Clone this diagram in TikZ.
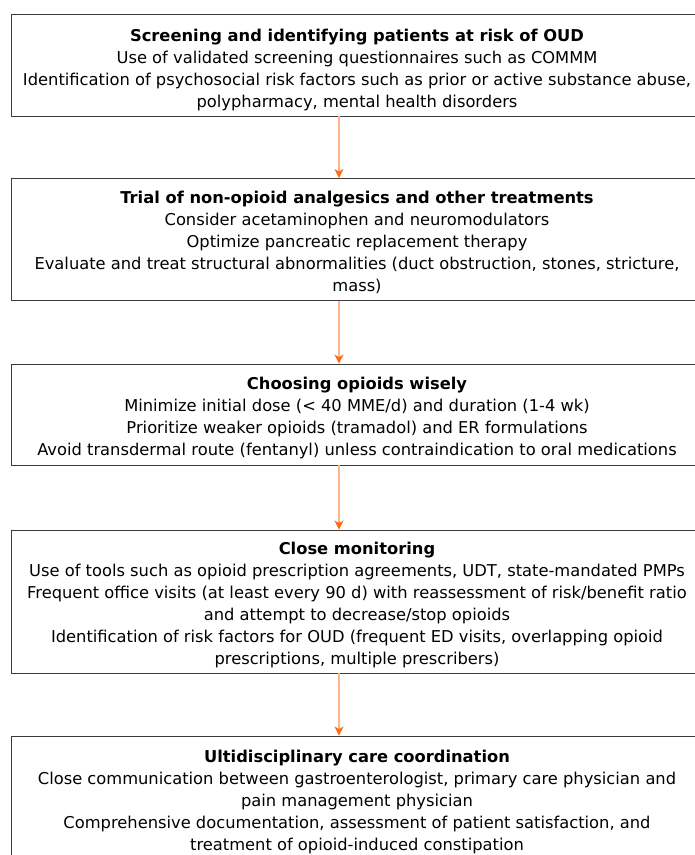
\documentclass[tikz,border=0pt]{standalone}
\usepackage{fontspec}
\setmainfont{DejaVu Sans}
\usetikzlibrary{arrows.meta}
\definecolor{boxline}{HTML}{3C3C3C}
\definecolor{arrline}{HTML}{FFB58A}
\definecolor{arrhead}{HTML}{FF6A13}
\newcommand{\tzlift}[1]{\rule{0pt}{#1}}
\begin{document}
\begin{tikzpicture}[x=1pt,y=-1pt,
  stagebox/.style={draw=boxline,line width=0.9pt,rectangle,minimum width=692pt,
    inner sep=0pt,align=center,font=\fontsize{16.3}{22}\selectfont},
  flowarrow/.style={draw=arrline,line width=1.6pt,
    -{Stealth[length=9pt,width=9pt,inset=2.5pt,color=arrhead]}}]
\useasboundingbox (0,0) rectangle (695,855);
\node[stagebox,minimum height=101.5pt] (b1) at (357,65.25) {\tzlift{21pt}\textbf{Screening and identifying patients at risk of OUD}\\
Use of validated screening questionnaires such as COMMM\\
Identification of psychosocial risk factors such as prior or active substance abuse,\\
polypharmacy, mental health disorders};
\node[stagebox,minimum height=122pt] (b2) at (357,239.5) {\tzlift{18.5pt}\textbf{Trial of non-opioid analgesics and other treatments}\\
Consider acetaminophen and neuromodulators\\
Optimize pancreatic replacement therapy\\
Evaluate and treat structural abnormalities (duct obstruction, stones, stricture,\\
mass)};
\node[stagebox,minimum height=101pt] (b3) at (357,414.5) {\tzlift{18.5pt}\textbf{Choosing opioids wisely}\\
Minimize initial dose (< 40 MME/d) and duration (1-4 wk)\\
Prioritize weaker opioids (tramadol) and ER formulations\\
Avoid transdermal route (fentanyl) unless contraindication to oral medications};
\node[stagebox,minimum height=143pt] (b4) at (357,601.5) {\tzlift{18.5pt}\textbf{Close monitoring}\\
Use of tools such as opioid prescription agreements, UDT, state-mandated PMPs\\
Frequent office visits (at least every 90 d) with reassessment of risk/benefit ratio\\
and attempt to decrease/stop opioids\\
Identification of risk factors for OUD (frequent ED visits, overlapping opioid\\
prescriptions, multiple prescribers)};
\node[stagebox,minimum height=126pt] (b5) at (357,799) {\tzlift{18.5pt}\textbf{Ultidisciplinary care coordination}\\
Close communication between gastroenterologist, primary care physician and\\
pain management physician\\
Comprehensive documentation, assessment of patient satisfaction, and\\
treatment of opioid-induced constipation};
\coordinate (ax) at (339,0);
\draw[flowarrow] (b1.south -| ax) -- (b2.north -| ax);
\draw[flowarrow] (b2.south -| ax) -- (b3.north -| ax);
\draw[flowarrow] (b3.south -| ax) -- (b4.north -| ax);
\draw[flowarrow] (b4.south -| ax) -- (b5.north -| ax);
\end{tikzpicture}
\end{document}
